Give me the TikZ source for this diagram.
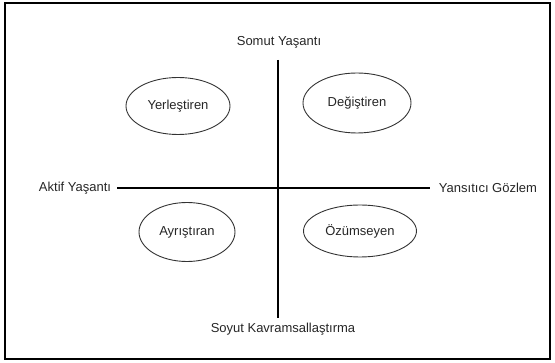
\documentclass[tikz,border=0pt]{standalone}
\usepackage{fontspec}
\setmainfont{Liberation Sans}
\usetikzlibrary{shapes.geometric}
\begin{document}
\begin{tikzpicture}[x=1pt,y=-1pt,
  lbl/.style={font=\fontsize{13}{15}\selectfont, text=black!85, inner sep=0pt},
  oval/.style={ellipse, draw=black!80, line width=0.9pt, inner sep=0pt, font=\fontsize{13}{15}\selectfont, text=black!85},
  axis/.style={line width=2.2pt, black}]
\useasboundingbox (0,0) rectangle (555,363);
\draw[line width=1.5pt] (5,3) rectangle (550,359);
\node[lbl] (top) at (279,42) {Somut Yaşantı};
\node[lbl] (bot) at (283,329) {Soyut Kavramsallaştırma};
\node[lbl] (lft) at (75,188) {Aktif Yaşantı};
\node[lbl] (rgt) at (488,188) {Yansıtıcı Gözlem};
\coordinate (vt) at (278,60);
\coordinate (vb) at (278,318);
\coordinate (hl) at (117,188);
\coordinate (hr) at (430,188);
\draw[axis] (vt) -- (vb);
\draw[axis] (hl) -- (hr);
\node[oval, minimum width=104, minimum height=57] (yer) at (178,106) {Yerleştiren};
\node[oval, minimum width=108, minimum height=60] (deg) at (357,103) {Değiştiren};
\node[oval, minimum width=96, minimum height=59] (ayr) at (187,232) {Ayrıştıran};
\node[oval, minimum width=113, minimum height=52] (ozu) at (360,231) {Özümseyen};
\end{tikzpicture}
\end{document}
